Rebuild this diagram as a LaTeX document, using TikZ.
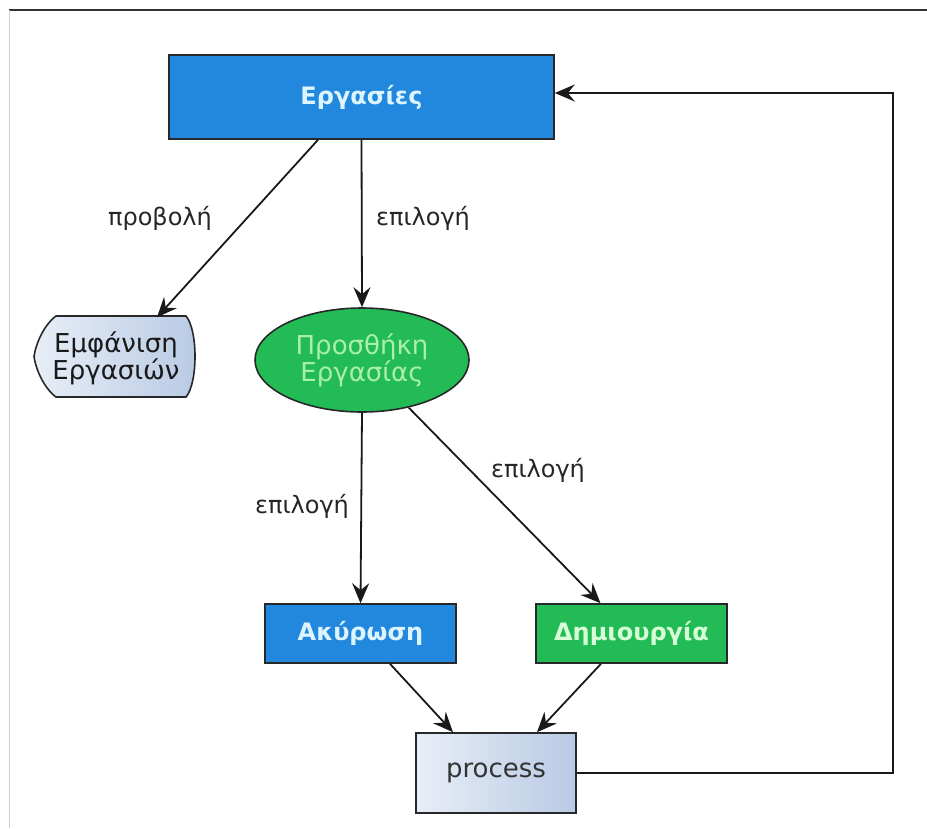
\documentclass[tikz,border=0pt]{standalone}
\usepackage{fontspec}
\setmainfont{DejaVu Sans}
\usetikzlibrary{arrows.meta,shapes.geometric,calc}
\definecolor{bluefill}{RGB}{34,136,221}
\definecolor{greenfill}{RGB}{34,187,85}
\definecolor{edgegray}{RGB}{40,40,40}
\definecolor{lightA}{RGB}{232,238,247}
\definecolor{lightB}{RGB}{184,202,228}
\definecolor{bluetext}{RGB}{220,244,255}
\definecolor{greentext}{RGB}{215,255,215}
\definecolor{ellipsetext}{RGB}{170,240,170}
\begin{document}
\begin{tikzpicture}[x=1pt,y=-1pt,
  every node/.style={font=\fontsize{24}{26}\selectfont, inner sep=0pt},
  bluebox/.style={rectangle, draw=edgegray, line width=1.6pt, fill=bluefill, text=bluetext, font=\fontsize{24}{26}\selectfont\bfseries},
  greenbox/.style={rectangle, draw=edgegray, line width=1.6pt, fill=greenfill, text=greentext, font=\fontsize{24}{26}\selectfont\bfseries},
  lightbox/.style={rectangle, draw=edgegray, line width=1.6pt, left color=lightA, right color=lightB, text=black!80, font=\fontsize{26}{26}\selectfont},
  conn/.style={draw=black!90, line width=1.8pt, -{Stealth[length=20pt,width=17pt,inset=7pt]}},
  lbl/.style={text=black!85}
]
\useasboundingbox (0,0) rectangle (927,828);
% frame
\draw[black!80, line width=1.5pt] (9,10) -- (927,10);
\draw[black!20, line width=1pt] (9,10) -- (9,828);

% nodes
\node[bluebox, minimum width=385pt, minimum height=84pt] (erg) at (361.5,97) {Εργασίες};

\fill[left color=lightA, right color=lightB, draw=edgegray, line width=1.6pt]
  (56,316) -- (186,316) .. controls (198,330) and (198,383) .. (186,397)
  -- (56,397) .. controls (44,388) and (36,370) .. (34,356.5)
  .. controls (36,343) and (44,325) .. (56,316) -- cycle;
\node[align=center, text=black!90, font=\fontsize{26}{25}\selectfont, minimum width=161pt, minimum height=81pt] (emf) at (116,358) {Εμφάνιση\\Εργασιών};

\node[ellipse, draw=edgegray, line width=1.6pt, fill=greenfill, text=ellipsetext, align=center, font=\fontsize{26}{25}\selectfont,
  minimum width=214pt, minimum height=104pt] (add) at (362,360) {Προσθήκη\\Εργασίας};

\node[bluebox, minimum width=191pt, minimum height=59pt] (aky) at (360.5,633.5) {Ακύρωση};
\node[greenbox, minimum width=191pt, minimum height=59pt] (dim) at (631.5,633.5) {Δημιουργία};
\node[lightbox, minimum width=160pt, minimum height=80pt] (proc) at (496,773) {process};

% labels
\node[lbl] (l1) at (160,218) {προβολή};
\node[lbl] (l2) at (423,218) {επιλογή};
\node[lbl] (l3) at (302,506) {επιλογή};
\node[lbl] (l4) at (538,470) {επιλογή};

% connectors
\draw[conn] ([xshift=-43.5pt]erg.south) -- ([xshift=41pt]emf.north);
\draw[conn] (erg.south) -- (add.north);
\draw[conn] (add.south) -- (aky.north);
\draw[conn] (add) -- ([xshift=-31pt]dim.north);
\draw[conn] ([xshift=29.5pt]aky.south) -- ([xshift=-43pt]proc.north);
\draw[conn] ([xshift=-30.5pt]dim.south) -- ([xshift=41pt]proc.north);
\coordinate (corner) at (893,773);
\draw[conn] (proc.east) -- (corner) |- ([yshift=4pt]erg.east);
\end{tikzpicture}
\end{document}
